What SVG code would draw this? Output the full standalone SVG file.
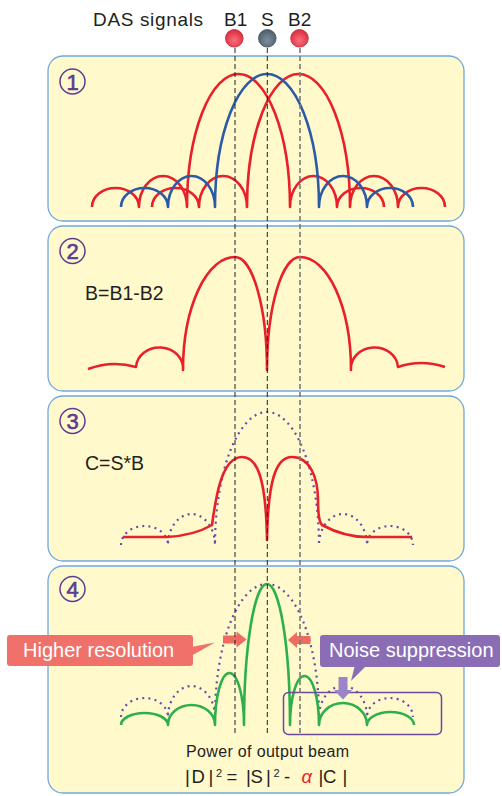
<svg xmlns="http://www.w3.org/2000/svg" width="502" height="796" viewBox="0 0 502 796">
<defs>
<radialGradient id="gRed" cx="0.5" cy="0.62" r="0.6">
<stop offset="0" stop-color="#f8717c"/><stop offset="1" stop-color="#dc2b3c"/>
</radialGradient>
<radialGradient id="gGray" cx="0.5" cy="0.62" r="0.6">
<stop offset="0" stop-color="#7f8e9c"/><stop offset="1" stop-color="#4f5e6d"/>
</radialGradient>
<style>
.panel{fill:#fff9cc;stroke:#6fa9dc;stroke-width:1.3}
.num circle{fill:none;stroke:#5e3b92;stroke-width:1.5}
.num text{font-family:"Liberation Sans",Arial,sans-serif;font-size:22px;font-weight:normal;fill:#5e3b92;stroke:#5e3b92;stroke-width:0.6;text-anchor:middle}
.red{fill:none;stroke:#e8202a;stroke-width:2.6;stroke-linejoin:round}
.blue{fill:none;stroke:#2b5aa6;stroke-width:2.6;stroke-linejoin:round}
.green{fill:none;stroke:#2db04b;stroke-width:2.6;stroke-linejoin:round}
.dot{fill:none;stroke:#6b4aa8;stroke-width:2.2;stroke-dasharray:2 4.2}
.lbl{font-family:"Liberation Sans",Arial,sans-serif;fill:#231f20}
.dashK{stroke:#222;stroke-width:1;stroke-dasharray:5 3}
.dashG{stroke:#7a7a7a;stroke-width:1.6;stroke-dasharray:5 3}
.callT{font-family:"Liberation Sans",Arial,sans-serif;font-size:20px;fill:#ffffff}
</style>
</defs>

<!-- header -->
<g id="header">
<text class="lbl" x="93" y="26" font-size="19" textLength="110" lengthAdjust="spacing">DAS signals</text>
<text class="lbl" x="224" y="26" font-size="19">B1</text>
<text class="lbl" x="261" y="26" font-size="19">S</text>
<text class="lbl" x="288" y="26" font-size="19">B2</text>
</g>
<g id="sig-B1"><circle cx="234.3" cy="38.3" r="8.8" fill="url(#gRed)" stroke="#c02535" stroke-width="0.8"/></g>
<g id="sig-S"><circle cx="267.3" cy="38.3" r="8.8" fill="url(#gGray)" stroke="#3f4c5a" stroke-width="0.8"/></g>
<g id="sig-B2"><circle cx="299.5" cy="38.3" r="8.8" fill="url(#gRed)" stroke="#c02535" stroke-width="0.8"/></g>

<!-- panel 1 -->
<g id="panel1">
<rect class="panel" x="48" y="56" width="416" height="165" rx="15"/>
<g class="num"><circle cx="72.5" cy="81.5" r="12.5"/><text x="72.5" y="89.5">1</text></g>
<path class="red" d="M92,207 A23.5,19 0 0 1 139,207 A24,31 0 0 1 187,207 A51.5,133 0 0 1 290,207 A23.5,31 0 0 1 337,207 A23.5,19 0 0 1 384,207"/>
<path class="red" d="M152,207 A23.5,19 0 0 1 199,207 A24,31 0 0 1 247,207 A51.5,133 0 0 1 350,207 A24,31 0 0 1 398,207 A23.5,19 0 0 1 445,207"/>
<path class="blue" d="M121,207 A23.5,19 0 0 1 168,207 A23.5,31 0 0 1 215,207 A52,133 0 0 1 319,207 A24,31 0 0 1 367,207 A23,19 0 0 1 413,207"/>
</g>

<!-- panel 2 -->
<g id="panel2">
<rect class="panel" x="48" y="226" width="416" height="165" rx="15"/>
<g class="num"><circle cx="72.5" cy="251" r="12.5"/><text x="72.5" y="259">2</text></g>
<text class="lbl" x="85" y="300" font-size="19.5">B=B1-B2</text>
<path class="red" d="M88,369 Q112,360 136,367 A23.5,21 0 0 1 183,370 A52,113 0 0 1 235,257 A32,113 0 0 1 267,370 A33,113 0 0 1 300,257 A51,113 0 0 1 351,370 A23.5,21 0 0 1 398,367 Q421,359 445,367"/>
</g>

<!-- panel 3 -->
<g id="panel3">
<rect class="panel" x="48" y="396" width="416" height="165" rx="15"/>
<g class="num"><circle cx="72.5" cy="421" r="12.5"/><text x="72.5" y="429">3</text></g>
<text class="lbl" x="85" y="470" font-size="19.5">C=S*B</text>
<path class="dot" d="M121,545 A23.5,19 0 0 1 168,545 A23.5,31 0 0 1 215,545 A52,133 0 0 1 319,545 A24,31 0 0 1 367,545 A23,19 0 0 1 413,545"/>
<path class="red" d="M123,537 L167,537 C185,536 200,532 212,525 C215,505 220,457 242,457 C258,457 266,480 267,540 C268,480 276,457 292,457 C310,457 318,478 318,500 C318,515 319,522 322,525 C335,532 350,537 367,537 L412,537"/>
</g>

<!-- panel 4 -->
<g id="panel4">
<rect class="panel" x="48" y="566" width="416" height="227" rx="15"/>
<g class="num"><circle cx="72.5" cy="589" r="12.5"/><text x="72.5" y="597">4</text></g>
<path class="dot" d="M121,717 A23.5,19 0 0 1 168,717 A23.5,31 0 0 1 215,717 A52,133 0 0 1 319,717 A24,31 0 0 1 367,717 A23,19 0 0 1 413,717"/>
<path class="green" d="M121,725 A23.5,12 0 0 1 168,725 A23.5,20 0 0 1 215,725 A14.5,52 0 0 1 244,725 A23,141 0 0 1 290,725 A14.5,49 0 0 1 319,725 A24,22 0 0 1 367,725 A23.5,13 0 0 1 414,725"/>
<rect x="283.5" y="692.5" width="158" height="42" rx="5" fill="none" stroke="#6b4a9e" stroke-width="1.5"/>
<text class="lbl" x="186" y="757" font-size="16" textLength="163" lengthAdjust="spacing">Power of output beam</text>
<text class="lbl" y="783" font-size="18.5"><tspan x="185">|</tspan><tspan x="191.5">D</tspan><tspan x="208.5">|</tspan><tspan x="216" y="777" font-size="11">2</tspan><tspan x="226.5" y="783">=</tspan><tspan x="246">|</tspan><tspan x="250.5">S</tspan><tspan x="266">|</tspan><tspan x="273.5" y="777" font-size="11">2</tspan><tspan x="284" y="783">-</tspan><tspan x="301.5" fill="#e8202a" font-style="italic">α</tspan><tspan x="318.5">|</tspan><tspan x="323">C</tspan><tspan x="342.5">|</tspan></text>
</g>

<!-- callouts -->
<g id="callout-resolution">
<rect x="7" y="635" width="186" height="31" rx="3" fill="#f0716a"/>
<polygon points="191,647 215,642.5 191,656" fill="#f0716a"/>
<text class="callT" x="23" y="657">Higher resolution</text>
</g>
<g id="callout-noise">
<rect x="320" y="635" width="180" height="32" rx="3" fill="#8a6db5"/>
<polygon points="355,665 367,665 351,681" fill="#8a6db5"/>
<text class="callT" x="329" y="657">Noise suppression</text>
</g>

<!-- connectors / arrows and guide lines -->
<g id="connectors">
<polygon points="223,635.5 236.5,635.5 236.5,631.5 246.5,639.5 236.5,647.5 236.5,643.5 223,643.5" fill="#f06b5f"/>
<polygon points="310.5,636 297,636 297,632 288,640 297,648 297,644 310.5,644" fill="#f06b5f"/>
<polygon points="338.5,677 347.5,677 347.5,690 352,690 343,699.5 334,690 338.5,690" fill="#9b85c9"/>
<line class="dashK" x1="235" y1="48" x2="235" y2="734"/>
<line class="dashK" x1="267.3" y1="48" x2="267.3" y2="734"/>
<line class="dashG" x1="300" y1="48" x2="300" y2="734"/>
</g>
</svg>
